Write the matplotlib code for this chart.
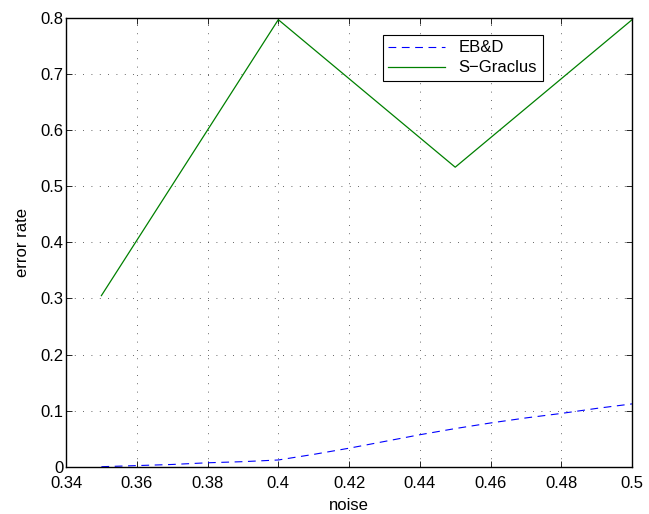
import matplotlib
matplotlib.use('Agg')
import matplotlib.pyplot as plt

noise_ebd = [0.35, 0.36, 0.37, 0.38, 0.39, 0.40, 0.41, 0.42, 0.43, 0.44, 0.45, 0.46, 0.47, 0.48, 0.49, 0.50]
err_ebd = [0.0, 0.002, 0.004, 0.007, 0.009, 0.012, 0.022, 0.033, 0.045, 0.057, 0.068, 0.078, 0.087, 0.095, 0.104, 0.112]
noise_sg = [0.35, 0.40, 0.45, 0.50]
err_sg = [0.305, 0.797, 0.534, 0.797]
xticks = [0.34, 0.36, 0.38, 0.4, 0.42, 0.44, 0.46, 0.48, 0.5]
yticks = [0, 0.1, 0.2, 0.3, 0.4, 0.5, 0.6, 0.7, 0.8]

plt.rcParams['font.family'] = ['Liberation Sans', 'DejaVu Sans']
plt.rcParams['font.size'] = 12

fig = plt.figure(figsize=(6.49, 5.14), dpi=100)
ax = fig.add_axes([0.1017, 0.092, 0.8723, 0.873])

ax.plot(noise_ebd, err_ebd, color='blue', linestyle=(0, (7, 5)), linewidth=0.8, label='EB&D')
ax.plot(noise_sg, err_sg, color=(0, 0.5, 0), linewidth=0.9, label='S\u2212Graclus')

ax.set_xlim(0.34, 0.5)
ax.set_ylim(0, 0.8)
ax.set_xticks(xticks)
ax.set_xticklabels(['%g' % t for t in xticks])
ax.set_yticks(yticks)
ax.set_yticklabels(['%g' % t for t in yticks])
ax.tick_params(direction='in', top=True, right=True, length=4, width=0.6)
ax.tick_params(axis='x', pad=7)
ax.tick_params(axis='y', pad=2)
ax.grid(True, color='#333333', linestyle=(0, (1, 9)), linewidth=0.6)
for s in ax.spines.values():
    s.set_linewidth(1.0)

ax.set_xlabel('noise', labelpad=5)
ax.set_ylabel('error rate', labelpad=7)

leg = ax.legend(loc='upper right', bbox_to_anchor=(0.842, 0.963), borderaxespad=0,
                fancybox=False, framealpha=1, edgecolor='black', borderpad=0.35,
                handlelength=3.4, labelspacing=0.3, fontsize=12)
leg.get_frame().set_linewidth(0.8)

fig.savefig('out.png', dpi=100)
